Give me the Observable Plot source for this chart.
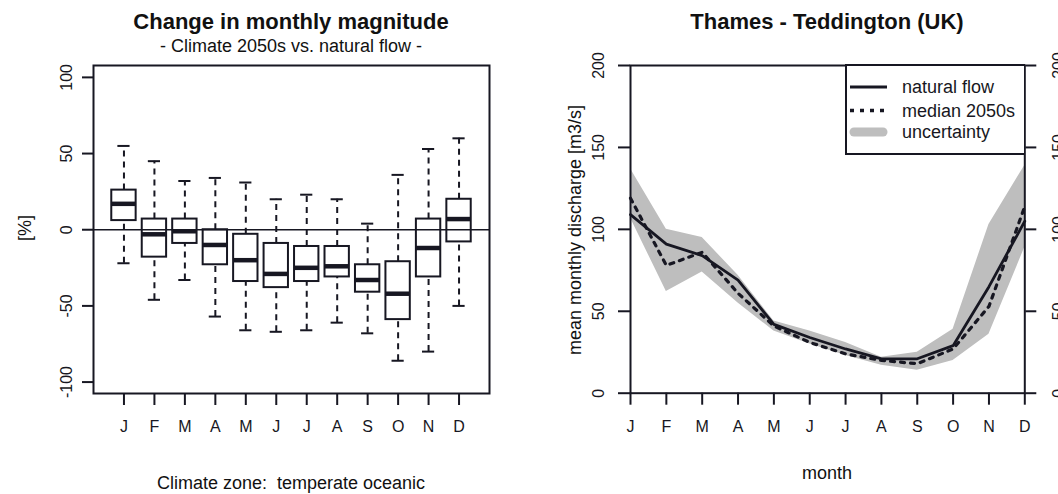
<!DOCTYPE html>
<html><head><meta charset="utf-8">
<script src="https://cdn.jsdelivr.net/npm/d3@7"></script>
<script src="https://cdn.jsdelivr.net/npm/@observablehq/plot@0.6"></script>
<style>
body{margin:0;background:#fff;}
#wrap{position:relative;width:1058px;height:494px;overflow:hidden;font-family:"Liberation Sans",Arial,sans-serif;color:#111;background:#fff;}
.t{position:absolute;white-space:pre;line-height:1;transform:translate(-50%,-50%);}
.rot{transform:translate(-50%,-50%) rotate(-90deg);}
.pl{position:absolute;top:0;}
</style></head><body><div id="wrap"></div>
<script>
// ---- left panel: change in monthly magnitude [%] ----
const months = ["J","F","M","A","M","J","J","A","S","O","N","D"];
const whiskerLow  = [-22,-46,-33,-57,-66,-67,-66,-61,-68,-86,-80,-50];
const boxQ1       = [  6,-18, -9,-23,-34,-38,-34,-31,-41,-59,-31, -8];
const boxMedian   = [ 17, -3, -1,-10,-20,-29,-25,-24,-33,-42,-12,  7];
const boxQ3       = [ 26,  7,  7,  0, -3, -9,-11,-11,-23,-21,  7, 20];
const whiskerHigh = [ 55, 45, 32, 34, 31, 20, 23, 20,  4, 36, 53, 60];
const pctTicks = [-100,-50,0,50,100];

// ---- right panel: Thames - Teddington discharge [m3/s] ----
const naturalFlow     = [109, 91, 84, 69, 42, 34, 27, 21, 21, 29, 65, 105];
const median2050s     = [119, 78, 86, 61, 41, 31, 24, 20, 18, 27, 53, 114];
const uncertaintyLow  = [107, 62, 74, 55, 38, 30, 23, 17, 14, 20, 36,  89];
const uncertaintyHigh = [137,100, 95, 72, 44, 38, 31, 22, 25, 39, 103, 139];
const flowTicks = [0,50,100,150,200];

const ink = "#171722";
const font = '"Liberation Sans", Arial, sans-serif';
const wrap = document.getElementById("wrap");

const boxData = months.map((m,i)=>({i:i+1, lo:whiskerLow[i], q1:boxQ1[i], med:boxMedian[i], q3:boxQ3[i], hi:whiskerHigh[i]}));
const flowData = months.map((m,i)=>({i:i+1, nat:naturalFlow[i], med:median2050s[i], lo:uncertaintyLow[i], hi:uncertaintyHigh[i]}));

const baseStyle = {fontFamily: font, fontSize: "16px", color: ink, background: "transparent", overflow: "visible"};
const monthFmt = d => months[d-1];

const left = Plot.plot({
  width: 529, height: 494,
  marginLeft: 93, marginRight: 40, marginTop: 65, marginBottom: 101,
  style: baseStyle,
  x: {domain: [0, 13]},
  y: {domain: [-107.5, 107.8]},
  marks: [
    Plot.ruleX(boxData, {x: "i", y1: "lo", y2: "q1", stroke: ink, strokeWidth: 2, strokeDasharray: "6,5"}),
    Plot.ruleX(boxData, {x: "i", y1: "q3", y2: "hi", stroke: ink, strokeWidth: 2, strokeDasharray: "6,5"}),
    Plot.ruleY(boxData, {y: "lo", x1: d => d.i - 0.2, x2: d => d.i + 0.2, stroke: ink, strokeWidth: 2}),
    Plot.ruleY(boxData, {y: "hi", x1: d => d.i - 0.2, x2: d => d.i + 0.2, stroke: ink, strokeWidth: 2}),
    Plot.rect(boxData, {x1: d => d.i - 0.4, x2: d => d.i + 0.4, y1: "q1", y2: "q3", fill: "white", stroke: ink, strokeWidth: 2}),
    Plot.ruleY(boxData, {y: "med", x1: d => d.i - 0.4, x2: d => d.i + 0.4, stroke: ink, strokeWidth: 4.5}),
    Plot.ruleY([0], {stroke: ink, strokeWidth: 1.5}),
    Plot.frame({stroke: ink, strokeWidth: 2}),
    Plot.axisY({ticks: pctTicks, tickSize: 11, tickRotate: -90, tickPadding: 11, tickFormat: d => String(d), label: null, strokeWidth: 2}),
    Plot.axisX({ticks: d3.range(1, 13), tickSize: 12, tickPadding: 15, tickFormat: monthFmt, label: null, strokeWidth: 2})
  ]
});
left.classList.add("pl"); left.style.left = "0px";
wrap.appendChild(left);

const right = Plot.plot({
  width: 529, height: 494,
  marginLeft: 101, marginRight: 33.7, marginTop: 65, marginBottom: 101.3,
  style: baseStyle,
  x: {domain: [1, 12]},
  y: {domain: [0, 200]},
  marks: [
    Plot.areaY(flowData, {x: "i", y1: "lo", y2: "hi", fill: "#bebebe"}),
    Plot.line(flowData, {x: "i", y: "med", stroke: ink, strokeWidth: 3.2, strokeDasharray: "4,6"}),
    Plot.line(flowData, {x: "i", y: "nat", stroke: ink, strokeWidth: 2.8}),
    Plot.frame({stroke: ink, strokeWidth: 2}),
    Plot.axisY({anchor: "left", ticks: flowTicks, tickSize: 12, tickRotate: -90, tickPadding: 15, tickFormat: d => String(d), label: null, strokeWidth: 2}),
    Plot.axisY({anchor: "right", ticks: flowTicks, tickSize: 11, tickRotate: -90, tickPadding: 28, tickFormat: d => String(d), label: null, strokeWidth: 2}),
    Plot.axisX({ticks: d3.range(1, 13), tickSize: 12, tickPadding: 15, tickFormat: monthFmt, label: null, strokeWidth: 2})
  ]
});
right.classList.add("pl"); right.style.left = "529px";
wrap.appendChild(right);

// ---- texts ----
function txt(s, x, y, size, opts = {}) {
  const d = document.createElement("div");
  d.className = "t" + (opts.rot ? " rot" : "");
  d.textContent = s;
  d.style.left = x + "px"; d.style.top = y + "px";
  d.style.fontSize = size + "px";
  if (opts.bold) d.style.fontWeight = "bold";
  wrap.appendChild(d);
}
txt("Change in monthly magnitude", 291, 22, 22, {bold: true});
txt("- Climate 2050s vs. natural flow -", 291, 46, 18);
txt("Thames - Teddington (UK)", 827, 22, 22, {bold: true});
txt("[%]", 25, 228, 18, {rot: true});
txt("mean monthly discharge [m3/s]", 575, 230, 18, {rot: true});
txt("month", 827, 473, 18);
txt("Climate zone:  temperate oceanic", 291, 483, 18);

// ---- legend ----
const ns = "http://www.w3.org/2000/svg";
const lg = document.createElementNS(ns, "svg");
lg.setAttribute("width", 180); lg.setAttribute("height", 91);
lg.style.position = "absolute"; lg.style.left = "845px"; lg.style.top = "64px";
const entries = [
  {label: "natural flow", y: 23, stroke: ink, w: 3, dash: null, cap: "butt"},
  {label: "median 2050s", y: 46.5, stroke: ink, w: 3.4, dash: "4,6", cap: "butt"},
  {label: "uncertainty", y: 68, stroke: "#bebebe", w: 9, dash: null, cap: "round"}
];
const box = document.createElementNS(ns, "rect");
box.setAttribute("x", 1); box.setAttribute("y", 1); box.setAttribute("width", 179); box.setAttribute("height", 89);
box.setAttribute("fill", "white"); box.setAttribute("stroke", ink); box.setAttribute("stroke-width", 2);
lg.appendChild(box);
for (const e of entries) {
  const l = document.createElementNS(ns, "line");
  const x1 = e.cap === "round" ? 9 : 5, x2 = e.cap === "round" ? 38 : 42;
  l.setAttribute("x1", x1); l.setAttribute("x2", x2); l.setAttribute("y1", e.y); l.setAttribute("y2", e.y);
  l.setAttribute("stroke", e.stroke); l.setAttribute("stroke-width", e.w); l.setAttribute("stroke-linecap", e.cap);
  if (e.dash) l.setAttribute("stroke-dasharray", e.dash);
  lg.appendChild(l);
  const t = document.createElementNS(ns, "text");
  t.setAttribute("x", 57); t.setAttribute("y", e.y); t.setAttribute("dominant-baseline", "central");
  t.setAttribute("font-family", font); t.setAttribute("font-size", 18); t.setAttribute("fill", ink);
  t.textContent = e.label;
  lg.appendChild(t);
}
wrap.appendChild(lg);
</script></body></html>
